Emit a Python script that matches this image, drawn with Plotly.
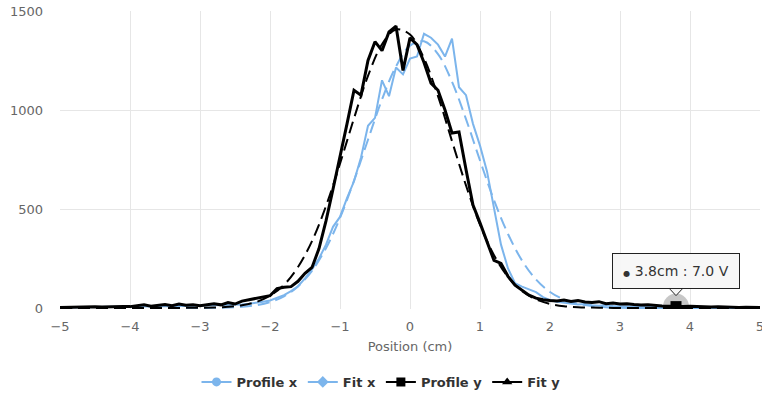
import numpy as np
import plotly.graph_objects as go

# Beam profile positions (cm)
positions = np.round(np.linspace(-5, 5, 101), 1)
fit_positions = np.round(np.linspace(-5, 5, 51), 1)

# Measured profile along x (V)
profile_x = [
    2, 3, 2, 4, 3, 5, 4, 5, 6, 5,
    6, 8, 7, 9, 8, 10, 9, 12, 10, 11,
    12, 11, 14, 13, 15, 16, 18, 22, 26, 32,
    38, 50, 65, 85, 110, 150, 195, 250, 320, 410,
    460, 555, 640, 760, 920, 960, 1150, 1070, 1215, 1180,
    1260, 1270, 1385, 1365, 1330, 1270, 1360, 1115, 1075, 930,
    820, 690, 500, 320, 200, 125, 108, 95, 80, 55,
    40, 32, 28, 22, 18, 20, 14, 12, 15, 10,
    8, 9, 7, 6, 7, 5, 6, 4, 5, 4,
    4, 3, 4, 3, 3, 2, 3, 2, 2, 2,
    2,
]

# Measured profile along y (V)
profile_y = [
    3, 4, 3, 5, 4, 6, 5, 7, 6, 8,
    7, 10, 16, 9, 14, 18, 12, 20, 14, 17,
    12, 18, 22, 16, 28, 20, 35, 42, 48, 55,
    62, 98, 105, 108, 135, 175, 205, 300, 440, 600,
    760, 930, 1100, 1075, 1250, 1345, 1300, 1394, 1424, 1200,
    1364, 1330, 1240, 1136, 1100, 1000, 884, 889, 700, 520,
    430, 330, 240, 225, 160, 115, 90, 65, 50, 42,
    38, 35, 40, 33, 38, 30, 28, 32, 22, 25,
    20, 22, 18, 15, 17, 12, 10, 9, 7.0, 8,
    9, 7, 6, 5, 6, 4, 5, 3, 4, 3,
    3,
]

# Gaussian fits (V)
fit_x = [
    0, 0, 0, 0, 0, 0, 0, 0, 0, 0, 0, 1,
    2, 6, 14, 30, 59, 109, 188, 302, 455, 643, 850, 1053, 1220, 1325,
    1347, 1282, 1143, 954, 745, 545, 374, 240, 144, 81, 43, 21, 10, 4, 1,
    0, 0, 0, 0, 0, 0, 0, 0, 0, 0,
]
fit_y = [
    0, 0, 0, 0, 0, 0, 0, 0, 0, 1, 1,
    2, 6, 14, 30, 62, 117, 207, 338, 515, 729, 958, 1172, 1332, 1407,
    1381, 1261, 1070, 843, 619, 421, 267, 157, 86, 44, 21, 9, 4, 2, 1,
    0, 0, 0, 0, 0, 0, 0, 0, 0, 0, 0,
]

# Highlighted point
hover_pos = 3.8
hover_idx = int(np.argmin(np.abs(positions - hover_pos)))
hover_val = profile_y[hover_idx]

BLUE = "#7cb5ec"
BLACK = "#000000"
DASH = "12px,6px"

fig = go.Figure()

series = [
    ("Profile x", positions, profile_x, BLUE, 2, "solid", "circle", "linear"),
    ("Fit x", fit_positions, fit_x, BLUE, 2, DASH, "diamond", "spline"),
    ("Profile y", positions, profile_y, BLACK, 3, "solid", "square", "linear"),
    ("Fit y", fit_positions, fit_y, BLACK, 2, DASH, "triangle-up", "spline"),
]

for name, xs, ys, color, width, dash, symbol, shape in series:
    fig.add_trace(go.Scatter(
        x=xs, y=ys, mode="lines", name=name, legendgroup=name,
        showlegend=False, hoverinfo="skip",
        line=dict(color=color, width=width, dash=dash, shape=shape),
    ))

# Legend entries with symbol markers
for name, xs, ys, color, width, dash, symbol, shape in series:
    fig.add_trace(go.Scatter(
        x=[None], y=[None], mode="lines+markers", name=name, legendgroup=name,
        line=dict(color=color, width=2),
        marker=dict(symbol=symbol, size=9, color=color),
    ))

# Hovered point: halo + square marker
fig.add_trace(go.Scatter(
    x=[positions[hover_idx]], y=[hover_val], mode="markers", showlegend=False,
    hoverinfo="skip", marker=dict(size=26, color="rgba(0,0,0,0.22)"),
))
fig.add_trace(go.Scatter(
    x=[positions[hover_idx]], y=[hover_val], mode="markers", showlegend=False,
    hoverinfo="skip", marker=dict(symbol="square", size=11, color=BLACK),
))

# Tooltip box with callout notch
fig.add_annotation(
    x=positions[hover_idx], y=hover_val, xref="x", yref="y",
    text=f"<span style='font-size:8px'>\u25CF</span> {positions[hover_idx]:.1f}cm : {hover_val:.1f} V",
    showarrow=False, yanchor="bottom", yshift=18,
    width=120, height=28, align="center",
    font=dict(family="DejaVu Sans", size=14, color="#333333"),
    bgcolor="rgba(247,247,247,0.95)", bordercolor="#222222",
    borderwidth=1, borderpad=3,
)
fig.add_shape(
    type="path", xref="x", yref="y",
    xsizemode="pixel", ysizemode="pixel",
    xanchor=positions[hover_idx], yanchor=hover_val,
    path="M -7 18.5 L 0 11 L 7 18.5 Z",
    fillcolor="rgba(247,247,247,1)", line=dict(color="#222222", width=1),
)
fig.add_shape(
    type="line", xref="x", yref="y",
    xsizemode="pixel", ysizemode="pixel",
    xanchor=positions[hover_idx], yanchor=hover_val,
    x0=-6, x1=6, y0=18.5, y1=18.5,
    line=dict(color="rgba(247,247,247,1)", width=2),
)

fig.update_layout(
    width=762, height=395,
    margin=dict(l=60, r=2, t=11, b=86),
    plot_bgcolor="white", paper_bgcolor="white",
    font=dict(family="DejaVu Sans", color="#666666", size=13),
    xaxis=dict(
        range=[-5, 5], tickvals=list(range(-5, 6)),
        showgrid=True, gridcolor="#e6e6e6", gridwidth=1,
        zeroline=False, showline=False, ticks="",
        ticklabelstandoff=8, ticklabeloverflow="allow",
        automargin=False,
        tickfont=dict(size=13, color="#666666"),
        title=dict(text="Position (cm)", font=dict(size=13, color="#666666"), standoff=8),
        fixedrange=True,
    ),
    yaxis=dict(
        range=[-5, 1500], tickvals=[0, 500, 1000, 1500],
        showgrid=True, gridcolor="#e6e6e6", gridwidth=1,
        zeroline=False, showline=False, ticks="",
        ticklabelstandoff=16, automargin=False,
        tickfont=dict(size=13, color="#666666"),
        fixedrange=True,
    ),
    legend=dict(
        orientation="h", xref="container", yref="container",
        x=0.5, xanchor="center", y=0.033, yanchor="middle",
        font=dict(size=13, color="#333333", weight="bold"),
        itemwidth=30, tracegroupgap=0,
    ),
    showlegend=True,
)

fig.write_html("out.html")
